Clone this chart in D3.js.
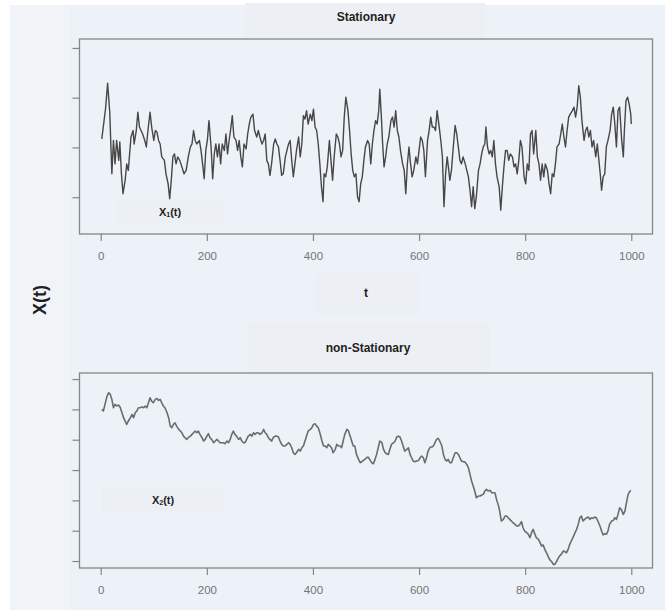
<!DOCTYPE html>
<html>
<head>
<meta charset="utf-8">
<script src="https://cdn.jsdelivr.net/npm/d3@7"></script>
<style>
  html, body { margin: 0; padding: 0; background: #ffffff; }
  svg { display: block; font-family: "Liberation Sans", Arial, sans-serif; }
</style>
</head>
<body>
<svg id="chart" width="665" height="613"></svg>
<script>
// Time axis ticks shared by both panels
const tTicks = [0, 200, 400, 600, 800, 1000];

// Stationary process X1(t): sampled time index and value
const stT = [2,9,13,17,21,24,27,30,34,36,39,42,46,49,52,57,61,63,67,70,73,76,79,83,86,89,93,96,100,103,106,109,112,115,120,123,127,130,133,136,139,142,145,149,153,157,161,165,169,172,175,178,181,186,189,192,195,198,201,204,208,211,214,217,220,223,226,229,233,236,239,242,245,248,251,255,258,261,264,267,270,274,277,280,283,287,290,294,297,300,304,307,310,313,316,319,322,326,329,332,335,338,341,344,348,351,354,357,360,363,366,369,373,376,379,382,385,388,391,395,398,401,404,407,410,413,416,419,421,424,427,431,434,437,440,444,447,450,453,456,459,462,466,469,472,475,478,481,484,487,490,493,496,499,503,506,509,512,515,518,521,524,526,529,531,534,537,540,543,547,550,553,556,559,562,565,569,572,575,578,581,584,587,590,594,597,600,603,606,609,612,616,619,622,625,628,631,634,638,641,644,647,650,653,656,658,661,665,668,671,674,677,680,683,687,690,693,696,699,702,705,708,712,715,718,721,724,726,729,732,735,738,741,744,747,751,754,757,760,763,766,769,772,776,779,782,785,788,791,794,798,801,804,807,810,813,816,820,823,826,829,832,835,838,842,845,848,851,854,857,860,864,867,870,873,876,879,882,885,889,892,895,898,901,904,907,911,914,917,920,923,926,929,933,936,939,942,944,947,950,953,956,960,963,966,969,972,975,978,982,985,987,990,993,996,999,1000];
const stV = [0.17,0.77,1.29,0.71,-0.53,0.14,-0.33,0.14,-0.26,0.11,-0.53,-0.93,-0.66,-0.33,-0.46,0.21,0.34,0.07,0.34,0.71,0.41,0.34,0.27,0.14,0.01,0.34,0.71,0.41,0.14,0.34,0.31,0.14,0.07,-0.19,-0.26,-0.53,-0.73,-1.03,-0.66,-0.19,-0.13,-0.33,-0.19,-0.26,-0.39,-0.53,-0.46,-0.19,0.01,0.07,0.34,0.14,0.07,0.14,-0.06,-0.33,-0.63,-0.06,0.14,0.54,0.01,-0.63,-0.13,0.07,-0.19,0.07,-0.33,0.07,-0.06,0.27,-0.13,0.14,0.37,0.64,0.21,0.14,-0.06,0.14,-0.19,-0.39,0.07,-0.03,0.27,0.47,0.61,0.67,0.34,0.21,0.34,0.21,0.07,0.14,0.27,-0.26,-0.33,-0.56,-0.33,0.07,0.17,0.07,0.01,-0.26,-0.56,-0.53,-0.19,-0.06,0.07,0.14,-0.26,-0.59,-0.33,-0.06,0.21,-0.19,0.07,0.64,0.57,0.74,0.47,0.67,0.54,0.77,0.41,0.34,0.07,-0.33,-0.79,-1.09,-0.53,-0.59,-0.39,0.14,-0.26,-0.66,-0.19,0.27,0.21,0.07,-0.19,-0.06,0.61,1.01,0.74,0.34,-0.13,-0.46,-0.59,-0.53,-0.99,-1.09,-0.73,-0.59,-0.26,0.01,0.14,0.07,-0.33,0.07,0.34,0.54,0.47,0.74,1.17,0.61,0.14,-0.39,-0.19,0.07,0.21,0.54,0.61,0.41,0.74,0.34,0.21,-0.06,-0.33,-0.46,-0.93,-0.33,0.01,-0.33,-0.59,-0.46,-0.19,-0.33,-0.06,0.21,0.14,-0.06,-0.59,0.14,0.34,0.61,0.41,0.41,0.34,0.74,0.41,0.14,-0.19,-1.19,-0.53,-0.19,-0.46,-0.66,-0.46,0.07,0.44,0.27,0.01,-0.26,-0.33,-0.19,-0.33,-0.46,-0.59,-0.86,-1.19,-0.79,-1.23,-0.99,-0.46,-0.33,-0.13,0.01,0.07,0.41,0.01,-0.13,-0.06,-0.19,0.14,-0.33,-0.59,-0.79,-1.26,-0.79,-0.39,-0.06,-0.06,-0.26,-0.13,-0.19,-0.39,-0.33,-0.53,-0.26,0.14,0.01,-0.59,-0.73,-0.33,-0.46,0.27,0.34,-0.13,0.34,-0.19,-0.33,-0.66,-0.33,-0.59,-0.33,-0.46,-0.73,-0.93,-0.53,-0.59,-0.33,0.01,0.07,0.27,0.47,0.21,0.01,0.34,0.61,0.67,0.74,0.81,0.61,0.81,1.24,1.01,0.54,0.14,0.34,0.41,0.21,0.34,0.01,0.14,-0.19,0.07,-0.26,-0.59,-0.86,-0.59,-0.53,0.01,0.14,0.34,0.67,0.81,0.47,0.01,0.74,0.81,0.14,-0.19,0.34,0.94,1.01,0.87,0.67,0.47];
const stYTicks = [-1, 0, 1, 2];

// Non-stationary process X2(t): sampled time index and value
const nsT = [2,5,8,12,15,18,21,24,27,30,34,37,40,43,46,49,52,56,59,62,65,68,71,74,78,81,84,87,90,93,96,99,103,106,109,112,115,118,121,125,128,131,134,137,140,143,147,150,153,156,159,162,165,169,172,175,178,181,184,187,191,194,197,200,203,206,209,213,216,219,222,225,228,231,234,238,241,244,247,250,253,256,260,263,266,269,272,275,278,282,285,288,291,294,297,300,304,307,310,313,316,319,322,325,329,332,335,338,341,344,347,351,354,357,360,363,366,369,373,376,379,382,385,388,391,395,398,401,404,407,410,413,417,420,423,426,429,432,435,438,442,445,448,451,454,457,460,464,467,470,473,476,479,482,486,489,492,495,498,501,504,508,511,514,517,520,523,526,530,533,536,539,542,545,548,552,555,558,561,564,567,570,573,577,580,583,586,589,592,595,599,602,605,608,611,614,617,621,624,627,630,633,636,639,643,646,649,652,655,658,661,665,668,671,674,677,680,683,686,690,693,696,699,702,705,708,712,715,718,721,724,727,730,734,737,740,743,746,749,752,755,759,762,765,768,771,774,777,781,784,787,790,793,796,799,803,806,809,812,815,818,821,825,828,831,834,837,840,843,846,850,853,856,859,862,865,868,872,875,878,881,884,887,890,894,897,900,903,906,909,912,916,919,922,925,928,931,934,937,941,944,947,950,953,956,959,963,966,969,972,975,978,981,985,988,991,994,997,999];
const nsV = [0.00,-0.27,0.82,2.20,2.75,2.47,1.65,0.27,0.82,0.55,0.71,0.27,-0.55,-1.37,-1.92,-2.47,-1.92,-1.37,-0.82,-1.37,-0.55,-0.27,0.27,0.27,0.38,0.27,0.55,0.27,1.10,1.92,1.37,1.10,1.65,1.81,1.48,1.65,1.10,0.55,0.27,-0.55,-1.37,-2.75,-3.02,-2.47,-2.20,-2.75,-3.30,-3.57,-3.85,-4.40,-4.67,-4.95,-4.67,-4.40,-4.12,-3.85,-3.57,-3.85,-3.57,-4.12,-4.67,-5.22,-4.95,-4.40,-4.01,-4.67,-4.95,-5.49,-5.22,-4.95,-5.22,-5.49,-5.49,-5.49,-5.66,-5.22,-5.49,-4.95,-4.12,-3.57,-4.12,-4.40,-4.95,-4.67,-5.22,-5.49,-5.49,-4.95,-4.40,-4.12,-4.40,-3.85,-4.12,-3.85,-3.85,-4.12,-3.85,-3.30,-3.85,-4.12,-4.67,-4.95,-5.22,-4.67,-4.40,-4.40,-4.56,-5.22,-5.77,-6.04,-6.04,-5.77,-5.49,-5.77,-6.32,-7.14,-7.42,-7.14,-6.59,-6.87,-6.32,-6.04,-5.22,-4.40,-3.57,-3.30,-3.02,-2.47,-2.36,-2.75,-3.02,-3.85,-5.22,-6.04,-6.04,-6.32,-5.77,-6.04,-6.32,-7.14,-6.59,-5.77,-6.04,-6.04,-6.32,-5.22,-4.12,-3.30,-3.57,-4.40,-5.22,-6.04,-6.04,-7.42,-8.24,-8.79,-8.63,-8.41,-8.24,-7.97,-7.86,-8.41,-8.79,-8.96,-8.24,-7.42,-6.32,-5.22,-5.49,-6.59,-7.14,-7.31,-7.42,-6.59,-5.77,-5.49,-5.22,-4.56,-4.40,-4.56,-5.22,-6.04,-6.87,-6.59,-6.32,-7.42,-7.97,-8.52,-8.63,-8.52,-8.41,-7.97,-7.69,-7.97,-8.79,-7.97,-6.87,-6.21,-6.21,-6.04,-5.49,-4.95,-4.78,-5.22,-6.04,-7.42,-8.24,-8.52,-8.24,-8.79,-8.79,-7.86,-7.14,-7.14,-7.42,-7.97,-8.52,-8.63,-8.63,-9.07,-9.62,-10.71,-11.81,-12.64,-13.46,-14.56,-14.29,-14.29,-14.12,-14.01,-13.46,-13.19,-13.46,-13.35,-13.74,-13.74,-13.74,-14.84,-15.66,-16.76,-18.41,-18.13,-17.58,-17.58,-17.86,-18.13,-18.41,-18.68,-18.96,-19.23,-19.23,-18.96,-18.52,-19.51,-20.05,-20.33,-20.60,-21.15,-20.33,-19.78,-20.49,-21.15,-21.43,-21.98,-22.53,-22.36,-23.08,-23.63,-24.18,-24.73,-25.11,-25.55,-25.55,-25.11,-24.56,-24.18,-23.90,-23.35,-23.46,-23.63,-23.08,-22.25,-21.70,-21.15,-20.33,-19.78,-18.96,-17.86,-17.58,-18.41,-18.13,-17.86,-17.75,-18.13,-17.86,-17.97,-17.75,-17.86,-18.41,-19.23,-20.05,-20.71,-20.49,-20.60,-20.05,-18.96,-18.41,-18.30,-17.86,-18.13,-17.31,-16.21,-16.48,-17.31,-16.76,-15.38,-14.01,-13.57,-13.35];
const nsYTicks = [5, 0, -5, -10, -15, -20, -25];

const svg = d3.select("#chart");

// page backdrop
svg.append("rect").attr("x", 10).attr("y", 5).attr("width", 655).attr("height", 605).attr("fill", "#edf2f8");
svg.append("rect").attr("x", 10).attr("y", 5).attr("width", 60).attr("height", 605).attr("fill", "#f0f4f9");

// soft label plates
const plates = [
  [245, 3, 240, 35], [315, 273, 105, 42], [248, 322, 242, 48],
  [117, 200, 106, 23], [102, 488, 121, 24]
];
svg.selectAll("rect.plate").data(plates).join("rect")
  .attr("class", "plate")
  .attr("x", d => d[0]).attr("y", d => d[1]).attr("width", d => d[2]).attr("height", d => d[3])
  .attr("fill", "#eceff3");

const x = d3.scaleLinear().domain([-40, 1040]).range([79.5, 652.5]);

function panel(top, bottom, yDomain, yTicks, tArr, vArr, stroke, width) {
  const y = d3.scaleLinear().domain(yDomain).range([bottom, top]);
  const g = svg.append("g");

  g.append("path")
    .datum(tArr.map((t, i) => [t, vArr[i]]))
    .attr("fill", "none")
    .attr("stroke", stroke)
    .attr("stroke-width", width)
    .attr("stroke-linejoin", "round")
    .attr("d", d3.line().x(d => x(d[0])).y(d => y(d[1])));

  g.append("rect")
    .attr("x", x.range()[0]).attr("y", top)
    .attr("width", x.range()[1] - x.range()[0]).attr("height", bottom - top)
    .attr("fill", "none").attr("stroke", "#858585").attr("stroke-width", 1.3);

  const ax = g.append("g").attr("transform", `translate(${x.range()[0]},0)`)
    .call(d3.axisLeft(y).tickValues(yTicks).tickSize(7).tickFormat(""));
  ax.select(".domain").remove();
  ax.selectAll("line").attr("stroke", "#858585").attr("stroke-width", 1.2);

  const bx = g.append("g").attr("transform", `translate(0,${bottom})`)
    .call(d3.axisBottom(x).tickValues(tTicks).tickSize(7).tickPadding(11).tickFormat(d3.format("d")));
  bx.select(".domain").remove();
  bx.selectAll("line").attr("stroke", "#858585").attr("stroke-width", 1.2);
  bx.selectAll("text").attr("fill", "#747474").attr("font-size", 11.5)
    .attr("font-family", "'Liberation Sans', Arial, sans-serif");
}

panel(39, 234, [-1.74, 2.18], stYTicks, stT, stV, "#474747", 1.4);
panel(373, 568, [-26.15, 6.0], nsYTicks, nsT, nsV, "#6c6c6c", 1.6);

// titles and labels
function label(txt, cx, cy, size) {
  return svg.append("text").attr("x", cx).attr("y", cy)
    .attr("text-anchor", "middle").attr("dominant-baseline", "central")
    .attr("font-weight", "bold").attr("font-size", size).attr("fill", "#1e1e1e").text(txt);
}
label("Stationary", 366, 17, 12);
label("t", 366, 293, 12);
label("non-Stationary", 368, 348, 12);

function subLabel(sub, cx, cy) {
  const t = svg.append("text").attr("x", cx).attr("y", cy)
    .attr("text-anchor", "middle").attr("dominant-baseline", "central")
    .attr("font-weight", "bold").attr("font-size", 11).attr("fill", "#1e1e1e");
  t.append("tspan").text("X");
  t.append("tspan").attr("font-size", 7).attr("dy", 2).text(sub);
  t.append("tspan").attr("dy", -2).text("(t)");
}
subLabel("1", 170, 212);
subLabel("2", 163, 500);

svg.append("text")
  .attr("transform", "translate(40,300) rotate(-90)")
  .attr("text-anchor", "middle").attr("dominant-baseline", "central")
  .attr("font-weight", "bold").attr("font-size", 18).attr("fill", "#1e1e1e")
  .text("X(t)");
</script>
</body>
</html>
